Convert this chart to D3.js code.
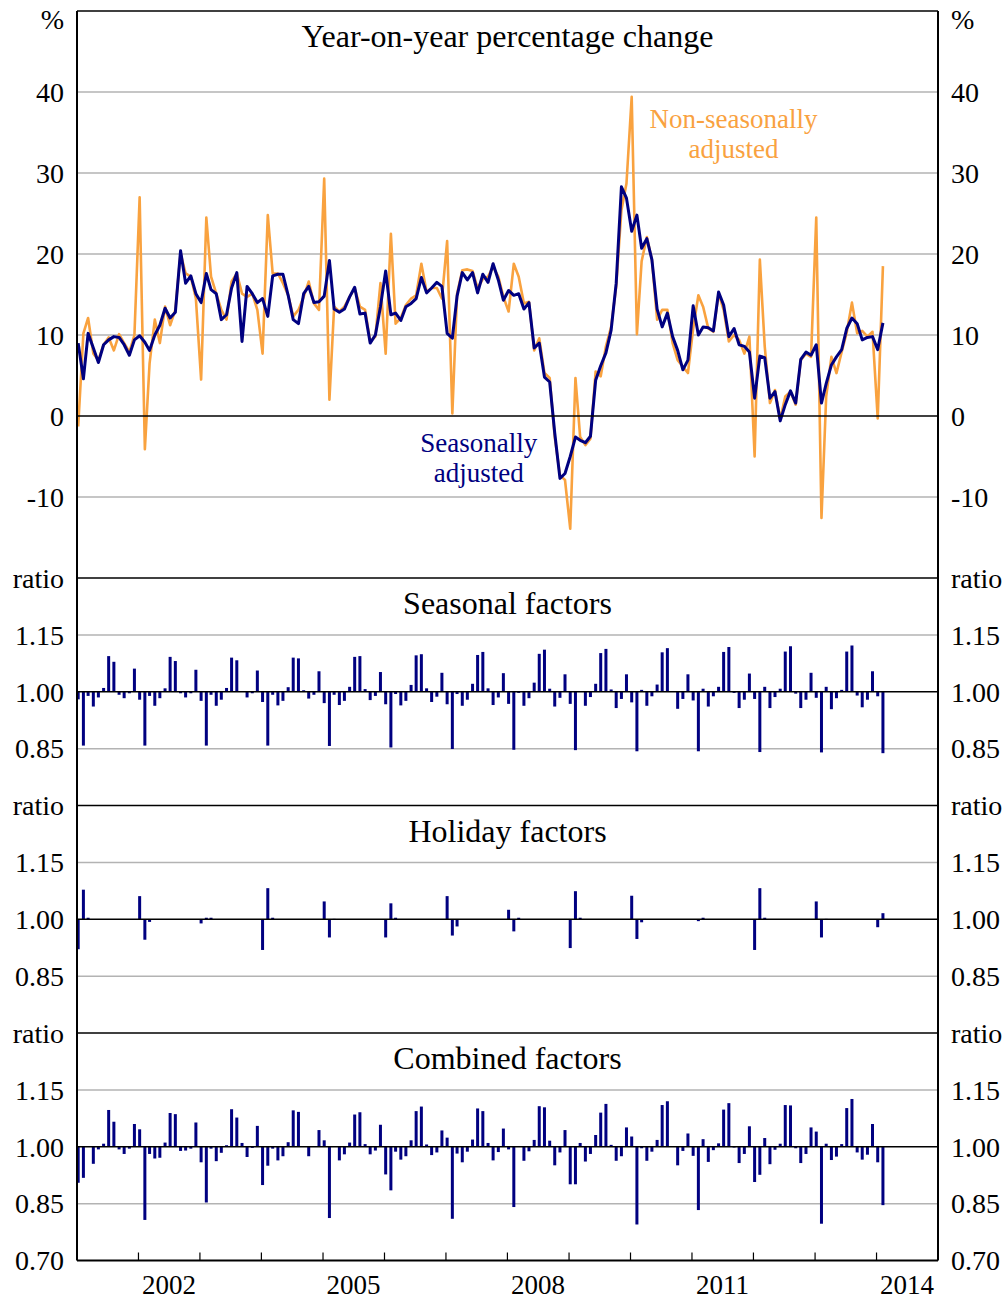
<!DOCTYPE html>
<html><head><meta charset="utf-8">
<script src="https://cdn.jsdelivr.net/npm/d3@7"></script>
<style>
body{margin:0;background:#fff}
svg{display:block}
text{font-family:"Liberation Serif","Times New Roman",serif;fill:#000}
</style>
</head><body>
<svg id="chart" width="1005" height="1299"></svg>
<script>
// ---------- DATA (monthly, Jan 2001 - Feb 2014) ----------
const seasonallyAdjusted = [
  9.0, 4.6, 10.2, 8.4, 6.6, 8.8, 9.4, 9.8, 9.7, 8.8, 7.5, 9.4,
  9.9, 9.1, 8.1, 10.0, 11.2, 13.3, 12.1, 12.8, 20.4, 16.4, 17.3, 15.1,
  14.0, 17.6, 15.6, 15.1, 11.9, 12.5, 15.8, 17.7, 9.2, 16.0, 15.1, 14.0,
  14.5, 12.3, 17.3, 17.5, 17.5, 14.9, 11.9, 11.4, 15.1, 16.0, 14.0, 14.1,
  14.8, 19.2, 13.2, 12.8, 13.2, 14.7, 15.9, 12.6, 12.7, 9.0, 10.0, 13.5,
  17.9, 12.5, 12.7, 11.8, 13.5, 13.9, 14.5, 17.1, 15.2, 15.8, 16.5, 16.0,
  10.2, 9.6, 14.8, 17.7, 16.8, 17.7, 15.2, 17.5, 16.5, 18.8, 16.8, 14.3,
  15.5, 14.9, 15.1, 13.2, 14.0, 8.4, 9.0, 4.8, 4.2, -2.1, -7.7, -7.1,
  -5.0, -2.6, -3.0, -3.3, -2.5, 4.4, 6.2, 7.8, 10.6, 16.4, 28.3, 26.9,
  22.8, 24.8, 20.7, 21.9, 19.3, 13.2, 11.0, 12.7, 9.8, 8.1, 5.7, 6.9,
  13.6, 10.0, 11.0, 10.9, 10.5, 15.3, 13.7, 9.8, 10.8, 8.8, 8.6, 7.9,
  2.2, 7.4, 7.2, 2.2, 3.0, -0.6, 1.4, 3.1, 1.6, 7.0, 7.9, 7.5,
  8.8, 1.6, 4.0, 6.3, 7.3, 8.2, 10.8, 12.1, 11.4, 9.4, 9.7, 9.8,
  8.2, 11.5
];
const nonSeasonallyAdjusted = [
  -1.3, 10.2, 12.1, 7.7, 6.9, 8.8, 9.7, 8.1, 10.1, 9.0, 7.9, 10.0,
  27.0, -4.1, 6.5, 11.9, 9.0, 13.5, 11.2, 13.1, 20.1, 17.6, 17.2, 14.5,
  4.5, 24.5, 17.2, 15.1, 13.1, 11.9, 16.6, 17.6, 15.1, 14.7, 15.1, 13.1,
  7.7, 24.8, 17.6, 17.6, 16.4, 14.9, 12.3, 13.1, 14.7, 16.6, 13.9, 13.1,
  29.3, 2.0, 13.5, 12.9, 13.5, 14.7, 15.8, 13.5, 13.1, 9.2, 9.8, 16.4,
  7.7, 22.5, 11.4, 12.1, 13.7, 14.5, 14.9, 18.8, 15.3, 15.8, 15.8, 14.5,
  21.6, 0.3, 15.1, 18.0, 18.1, 17.9, 15.8, 16.9, 17.2, 18.4, 17.2, 14.7,
  12.9, 18.8, 17.2, 13.9, 14.1, 8.1, 9.6, 5.3, 4.7, -2.6, -7.3, -7.9,
  -13.9, 4.7, -2.6, -3.6, -2.8, 5.5, 4.9, 8.6, 11.0, 16.0, 25.4, 28.7,
  39.4, 10.1, 19.1, 22.1, 19.3, 11.9, 13.1, 13.1, 9.0, 6.9, 6.1, 5.3,
  10.8, 14.9, 13.5, 10.8, 10.4, 15.1, 13.1, 9.2, 10.0, 9.4, 7.7, 9.8,
  -5.0, 19.3, 8.6, 1.6, 3.2, -0.4, 2.4, 3.0, 1.4, 6.9, 7.7, 7.3,
  24.5, -12.6, 2.4, 7.3, 5.3, 7.9, 10.3, 14.0, 10.2, 10.5, 9.8, 10.4,
  -0.3, 18.5
];
const seasonalFactors = [
  0.980, 0.858, 0.989, 0.961, 0.985, 1.010, 1.094, 1.079, 0.992, 0.983, 0.996, 1.061,
  0.979, 0.858, 0.989, 0.963, 0.983, 1.009, 1.092, 1.081, 0.996, 0.985, 0.996, 1.058,
  0.976, 0.858, 0.992, 0.963, 0.979, 1.010, 1.090, 1.083, 1.001, 0.985, 0.996, 1.056,
  0.973, 0.858, 0.992, 0.964, 0.976, 1.012, 1.090, 1.088, 1.004, 0.982, 0.992, 1.054,
  0.970, 0.857, 0.992, 0.965, 0.976, 1.013, 1.092, 1.094, 1.007, 0.978, 0.989, 1.052,
  0.967, 0.853, 0.994, 0.964, 0.976, 1.018, 1.096, 1.099, 1.009, 0.973, 0.987, 1.050,
  0.967, 0.849, 0.994, 0.963, 0.979, 1.021, 1.097, 1.105, 1.009, 0.965, 0.985, 1.049,
  0.968, 0.847, 0.997, 0.963, 0.983, 1.024, 1.100, 1.111, 1.008, 0.961, 0.984, 1.046,
  0.968, 0.846, 1.001, 0.963, 0.986, 1.021, 1.102, 1.113, 1.006, 0.957, 0.981, 1.046,
  0.972, 0.843, 1.005, 0.963, 0.988, 1.019, 1.104, 1.115, 1.002, 0.955, 0.981, 1.046,
  0.977, 0.843, 1.008, 0.961, 0.988, 1.013, 1.105, 1.118, 0.997, 0.957, 0.979, 1.048,
  0.981, 0.841, 1.013, 0.957, 0.986, 1.008, 1.106, 1.120, 0.995, 0.957, 0.979, 1.050,
  0.984, 0.840, 1.013, 0.954, 0.983, 1.005, 1.106, 1.122, 0.990, 0.959, 0.979, 1.054,
  0.988, 0.838
];
const holidayFactors = [
  0.921, 1.078, 1.004, 1.000, 1.000, 1.000, 1.000, 1.000, 1.000, 1.000, 1.000, 1.000,
  1.061, 0.946, 0.993, 1.000, 1.000, 1.000, 1.000, 1.000, 1.000, 1.000, 1.000, 1.000,
  0.989, 1.004, 1.004, 1.000, 1.000, 1.000, 1.000, 1.000, 1.000, 1.000, 1.000, 1.000,
  0.919, 1.082, 1.004, 1.000, 1.000, 1.000, 1.000, 1.000, 1.000, 1.000, 1.000, 1.000,
  1.047, 0.952, 1.001, 1.000, 1.000, 1.000, 1.000, 1.000, 1.000, 1.000, 1.000, 1.000,
  0.952, 1.042, 1.004, 1.000, 1.000, 1.000, 1.000, 1.000, 1.000, 1.000, 1.000, 1.000,
  1.061, 0.957, 0.981, 1.000, 1.000, 1.000, 1.000, 1.000, 1.000, 1.000, 1.000, 1.000,
  1.025, 0.968, 1.004, 1.000, 1.000, 1.000, 1.000, 1.000, 1.000, 1.000, 1.000, 1.000,
  0.924, 1.074, 1.004, 1.000, 1.000, 1.000, 1.000, 1.000, 1.000, 1.000, 1.000, 1.000,
  1.062, 0.948, 0.992, 1.000, 1.000, 1.000, 1.000, 1.000, 1.000, 1.000, 1.000, 1.000,
  1.000, 0.995, 1.004, 1.000, 1.000, 1.000, 1.000, 1.000, 1.000, 1.000, 1.000, 1.000,
  0.919, 1.082, 1.004, 1.000, 1.000, 1.000, 1.000, 1.000, 1.000, 1.000, 1.000, 1.000,
  1.047, 0.952, 1.001, 1.000, 1.000, 1.000, 1.000, 1.000, 1.000, 1.000, 1.000, 1.000,
  0.979, 1.016
];
const combinedFactors = [
  0.905, 0.918, 1.000, 0.955, 0.993, 1.008, 1.097, 1.066, 0.993, 0.981, 0.995, 1.060,
  1.046, 0.807, 0.981, 0.969, 0.971, 1.011, 1.089, 1.086, 0.989, 0.990, 0.995, 1.064,
  0.959, 0.853, 0.995, 0.962, 0.984, 1.004, 1.099, 1.077, 1.010, 0.973, 0.997, 1.055,
  0.899, 0.950, 0.995, 0.964, 0.975, 1.012, 1.096, 1.092, 1.000, 0.975, 1.000, 1.044,
  1.017, 0.812, 1.000, 0.964, 0.980, 1.011, 1.085, 1.091, 1.007, 0.980, 0.990, 1.058,
  0.927, 0.885, 0.987, 0.966, 0.975, 1.017, 1.094, 1.106, 1.006, 0.978, 0.985, 1.043,
  1.024, 0.810, 0.982, 0.959, 0.987, 1.019, 1.101, 1.094, 1.010, 0.964, 0.986, 1.048,
  0.993, 0.841, 1.002, 0.963, 0.988, 1.018, 1.107, 1.104, 1.016, 0.951, 0.985, 1.044,
  0.901, 0.901, 1.010, 0.961, 0.981, 1.031, 1.090, 1.113, 1.005, 0.963, 0.975, 1.051,
  1.027, 0.795, 0.996, 0.963, 0.987, 1.018, 1.110, 1.120, 1.000, 0.951, 0.989, 1.035,
  0.976, 0.833, 1.020, 0.960, 0.991, 1.009, 1.098, 1.115, 0.998, 0.957, 0.981, 1.054,
  0.907, 0.926, 1.023, 0.954, 0.992, 1.008, 1.110, 1.109, 0.996, 0.957, 0.981, 1.051,
  1.040, 0.797, 1.008, 0.965, 0.974, 1.007, 1.102, 1.126, 0.985, 0.966, 0.979, 1.060,
  0.959, 0.846
];
const pctTicks = [40, 30, 20, 10, 0, -10];
const pctTickLabels = ["40", "30", "20", "10", "0", "-10"];
const ratioTicks = [1.15, 1.00, 0.85];
const ratioTickLabels = ["1.15", "1.00", "0.85"];
const yearTicks = [2002, 2003, 2004, 2005, 2006, 2007, 2008, 2009, 2010, 2011, 2012, 2013, 2014];
const yearLabels = ["2002", "2005", "2008", "2011", "2014"];
const panelTitles = ["Year-on-year percentage change", "Seasonal factors", "Holiday factors", "Combined factors"];

// ---------- LAYOUT ----------
const L = 77, R = 938;
const NAVY = "#000080", ORANGE = "#f9a23f", GRID = "#b3b3b3";
const svg = d3.select("#chart");
const x = d3.scaleTime().domain([new Date(2001, 0, 1), new Date(2015, 0, 1)]).range([L, R]);
const dates = d3.timeMonth.range(new Date(2001, 0, 1), new Date(2014, 2, 1)).map(d => d3.timeDay.offset(d, 7));

const topY = d3.scaleLinear().domain([-20, 50]).range([578, 11]);
const barPanels = [
  {title: panelTitles[1], data: seasonalFactors, top: 578},
  {title: panelTitles[2], data: holidayFactors, top: 805.5},
  {title: panelTitles[3], data: combinedFactors, top: 1033}
];
barPanels.forEach(p => { p.y = d3.scaleLinear().domain([0.70, 1.30]).range([p.top + 227.5, p.top]); });

const gGrid = svg.append("g");
const gMarks = svg.append("g");
const gFrame = svg.append("g");
const gText = svg.append("g");

function hline(g, y, color, w) {
  g.append("line").attr("x1", L).attr("x2", R).attr("y1", y).attr("y2", y)
    .attr("stroke", color).attr("stroke-width", w);
}
function sideLabels(y, txt) {
  gText.append("text").attr("x", 64).attr("y", y).attr("dy", "0.35em")
    .attr("text-anchor", "end").style("font-size", "28px").text(txt);
  gText.append("text").attr("x", 951).attr("y", y).attr("dy", "0.35em")
    .attr("text-anchor", "start").style("font-size", "28px").text(txt);
}

// top panel
pctTicks.forEach((v, i) => {
  if (v !== 0) hline(gGrid, topY(v), GRID, 1.5);
  sideLabels(topY(v), pctTickLabels[i]);
});
sideLabels(topY(50) + 8, "%");
gText.append("text").attr("x", (L + R) / 2).attr("y", topY(50) + 36)
  .attr("text-anchor", "middle").style("font-size", "32px").text(panelTitles[0]);

const line = d3.line().x((d, i) => x(dates[i])).y(d => topY(d));
gMarks.append("path").datum(nonSeasonallyAdjusted).attr("d", line)
  .attr("fill", "none").attr("stroke", ORANGE).attr("stroke-width", 2.6).attr("stroke-linejoin", "round");
gMarks.append("path").datum(seasonallyAdjusted).attr("d", line)
  .attr("fill", "none").attr("stroke", NAVY).attr("stroke-width", 3).attr("stroke-linejoin", "round");
hline(gFrame, topY(0), "#000", 1.6);

// series labels (two separate lines each)
const nsaX = x(new Date(2011, 8, 5)), saX = x(new Date(2007, 6, 15));
[["Non-seasonally", 35.5], ["adjusted", 31.8]].forEach(([t, v]) => {
  gText.append("text").attr("x", nsaX).attr("y", topY(v)).attr("text-anchor", "middle")
    .style("font-size", "27px").style("fill", ORANGE).text(t);
});
[["Seasonally", -4.5], ["adjusted", -8.2]].forEach(([t, v]) => {
  gText.append("text").attr("x", saX).attr("y", topY(v)).attr("text-anchor", "middle")
    .style("font-size", "27px").style("fill", NAVY).text(t);
});

// bar panels
barPanels.forEach((p, k) => {
  ratioTicks.forEach((v, i) => {
    if (v !== 1.00) hline(gGrid, p.y(v), GRID, 1.5);
    sideLabels(p.y(v), ratioTickLabels[i]);
  });
  sideLabels(p.y(1.30), "ratio");
  if (k === barPanels.length - 1) sideLabels(p.y(0.70), "0.70");
  gText.append("text").attr("x", (L + R) / 2).attr("y", p.top + 36)
    .attr("text-anchor", "middle").style("font-size", "32px").text(p.title);
  gMarks.append("g").selectAll("rect").data(p.data).join("rect")
    .attr("x", (d, i) => x(dates[i]) - 1.5)
    .attr("width", 3)
    .attr("y", d => Math.min(p.y(d), p.y(1)))
    .attr("height", d => Math.abs(p.y(d) - p.y(1)))
    .attr("fill", NAVY);
  hline(gFrame, p.y(1.00), "#000", 1.6);
  hline(gFrame, p.top, "#000", 1.6);
});

// frame
const bottom = barPanels[2].top + 227.5;
hline(gFrame, topY(50), "#000", 1.6);
hline(gFrame, bottom, "#000", 2);
gFrame.append("line").attr("x1", L).attr("x2", L).attr("y1", topY(50)).attr("y2", bottom).attr("stroke", "#000").attr("stroke-width", 2);
gFrame.append("line").attr("x1", R).attr("x2", R).attr("y1", topY(50)).attr("y2", bottom).attr("stroke", "#000").attr("stroke-width", 2);

// x ticks
yearTicks.forEach(yr => {
  const xx = x(new Date(yr, 0, 1));
  gFrame.append("line").attr("x1", xx).attr("x2", xx).attr("y1", bottom - 8).attr("y2", bottom)
    .attr("stroke", "#000").attr("stroke-width", 1.2);
});
yearLabels.forEach(lab => {
  gText.append("text").attr("x", x(new Date(+lab, 6, 1))).attr("y", bottom + 33)
    .attr("text-anchor", "middle").style("font-size", "27px").text(lab);
});
</script>
</body></html>
